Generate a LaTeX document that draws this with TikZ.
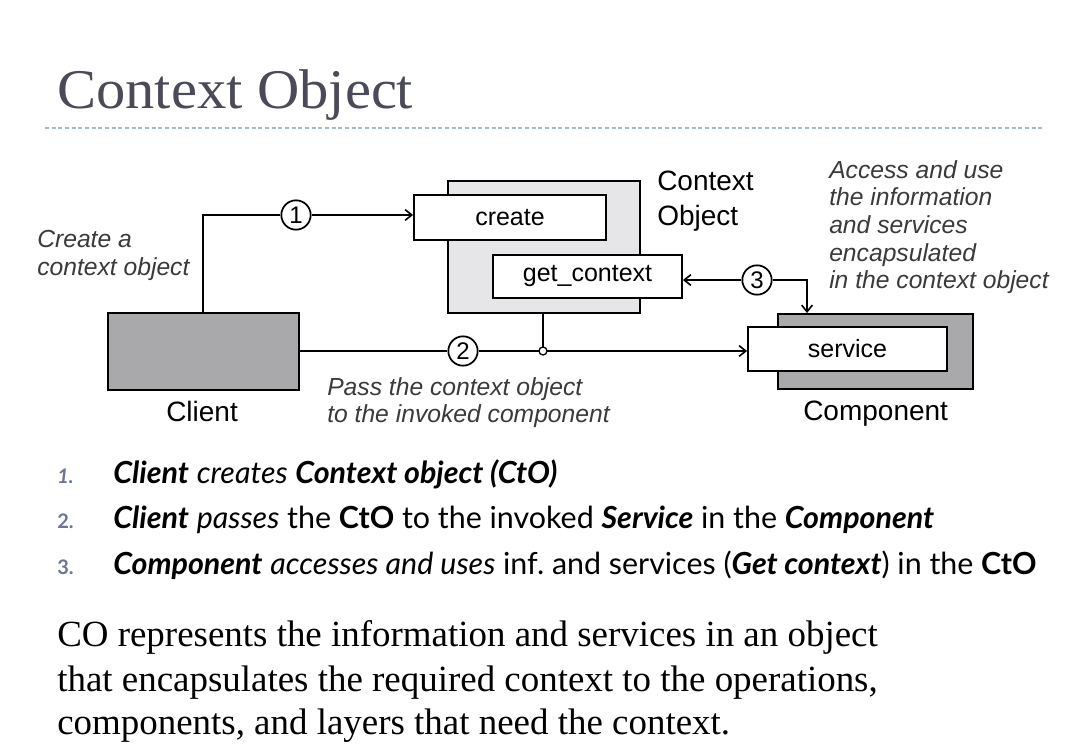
\documentclass[tikz,border=0pt]{standalone}
\usepackage{fontspec}
\setmainfont{Liberation Serif}
\newfontfamily\diagfont{Liberation Sans}
\newfontfamily\listfont{Lato}
\usetikzlibrary{arrows.meta}
\definecolor{titlecol}{HTML}{4A4A58}
\definecolor{rulecol}{HTML}{9DBBD3}
\definecolor{darkfill}{HTML}{A9A9AC}
\definecolor{lightfill}{HTML}{E6E6E8}
\definecolor{notecol}{HTML}{3A3A3A}
\definecolor{numcol}{HTML}{6B7594}
\tikzset{
  box/.style={draw=black, line width=1.4pt, inner sep=0pt, font=\diagfont\fontsize{18.75}{22}\selectfont},
  step num/.style={draw=black, line width=1.3pt, circle, fill=white, minimum size=22pt, inner sep=0pt, font=\diagfont\fontsize{18}{20}\selectfont},
  wire/.style={line width=1.4pt},
  arr/.style={wire, -{Straight Barb[length=5pt,width=8pt,line width=1.2pt]}},
  note/.style={anchor=base west, inner sep=0pt, text=notecol, font=\diagfont\itshape\fontsize{18.5}{21}\selectfont},
  lbl/.style={anchor=base west, inner sep=0pt, font=\diagfont\fontsize{21}{24}\selectfont},
  item/.style={anchor=base west, inner sep=0pt, font=\listfont\fontsize{22.8}{26}\selectfont},
  num/.style={anchor=base west, inner sep=0pt, text=numcol, font=\listfont\bfseries\fontsize{15}{17}\selectfont},
  para/.style={anchor=base west, inner sep=0pt, font=\fontsize{27.7}{33}\selectfont},
}
\newcommand{\bi}[1]{\textbf{\textit{#1}}}
\begin{document}
\begin{tikzpicture}[x=0.75pt,y=-0.75pt]
\useasboundingbox[fill=white] (0,0) rectangle (1086,753);

% heading and rule
\node[anchor=base west, inner sep=0pt, text=titlecol, font=\fontsize{42}{46}\selectfont, xscale=1.045] (title) at (57,108) {Context Object};
\draw[rulecol, line width=0.8pt, dash pattern=on 3pt off 2pt] (45,128) -- (1043,128);

% boxes
\node[box, fill=darkfill, minimum width=191*0.75pt, minimum height=77*0.75pt] (client) at (203.5,351.5) {};
\node[box, fill=lightfill, minimum width=192*0.75pt, minimum height=132*0.75pt] (ctx) at (544,247) {};
\node[box, fill=white, minimum width=192*0.75pt, minimum height=45*0.75pt] (create) at (510,217.5) {create};
\node[box, fill=white, minimum width=189*0.75pt, minimum height=43*0.75pt] (getctx) at (587.5,276.5) {get\_context};
\node[box, fill=darkfill, minimum width=195*0.75pt, minimum height=75*0.75pt] (comp) at (875.5,351.5) {};
\node[box, fill=white, minimum width=199*0.75pt, minimum height=44*0.75pt] (service) at (847.5,349) {service};

% step markers
\node[step num] (s1) at (296,215) {1};
\node[step num] (s2) at (463,351) {2};
\node[step num] (s3) at (757,280) {3};
\coordinate (bend) at (807,280);

% connectors
\draw[wire] (client.north -| 203,0) -- (203,215) -- (s1);
\draw[arr] (s1) -- (create.west |- s1);
\draw[wire] (client.east |- s2) -- (s2);
\draw[arr] (s2) -- (service.west |- s2);
\draw[wire] (ctx.south -| 543,0) -- (543,351);
\node[draw=black, line width=1pt, circle, fill=white, minimum size=6pt, inner sep=0pt] (jn) at (543,351) {};
\draw[arr] (s3) -- (getctx.east |- s3);
\draw[arr] (s3) -- (bend) -- (bend |- comp.north);

% labels
\node[lbl] (lclient) at (166,421) {Client};
\node[lbl] (lcomp) at (803,420) {Component};
\node[lbl] (lctx1) at (657,190) {Context};
\node[lbl] (lctx2) at (657,225) {Object};

\node[note] (n1a) at (37,247) {Create a};
\node[note] (n1b) at (37,275) {context object};
\node[note] (n2a) at (327,395) {Pass the context object};
\node[note] (n2b) at (327,422) {to the invoked component};
\node[note] (n3a) at (829,178) {Access and use};
\node[note] (n3b) at (829,205) {the information};
\node[note] (n3c) at (829,233) {and services};
\node[note] (n3d) at (829,261) {encapsulated};
\node[note] (n3e) at (829,288) {in the context object};

% numbered list
\node[num] (k1) at (57,483) {\textit{1.}};
\node[num] (k2) at (57,528) {2.};
\node[num] (k3) at (57,574) {3.};
\node[item] (i1) at (113,483) {\bi{Client} \textit{creates} \bi{Context object (CtO)}};
\node[item] (i2) at (113,528) {\bi{Client} \textit{passes} the \textbf{CtO} to the invoked \bi{Service} in the \bi{Component}};
\node[item] (i3) at (113,574) {\bi{Component} \textit{accesses and uses} inf.\ and services (\bi{Get context}) in the \textbf{CtO}};

% closing paragraph
\node[para] (p1) at (57,646) {CO represents the information and services in an object};
\node[para] (p2) at (57,691) {that encapsulates the required context to the operations,};
\node[para] (p3) at (57,734) {components, and layers that need the context.};
\end{tikzpicture}
\end{document}
